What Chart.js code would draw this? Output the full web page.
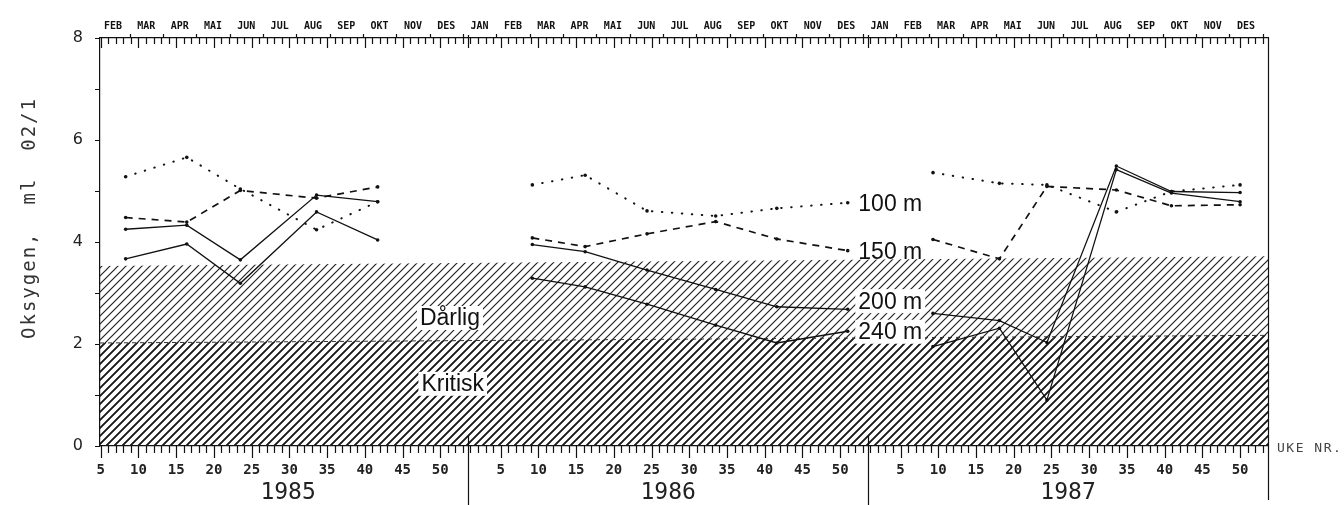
<!DOCTYPE html>
<html>
<head>
<meta charset="utf-8">
<script src="https://cdn.jsdelivr.net/npm/chart.js@4.4.1/dist/chart.umd.min.js"></script>
<style>
  html, body { margin: 0; padding: 0; background: #fff; }
  #wrap { width: 1344px; height: 505px; }
</style>
</head>
<body>
<div id="wrap"><canvas id="myChart" width="1344" height="505"></canvas></div>
<script>
// ---- data ----
const years = ['1985', '1986', '1987'];
const yearOffsets = [0, 53, 106];           // week index where each year starts
const months = ['JAN', 'FEB', 'MAR', 'APR', 'MAI', 'JUN', 'JUL', 'AUG', 'SEP', 'OKT', 'NOV', 'DES'];
const yTicks = [0, 2, 4, 6, 8];

// sampling weeks per year
const weeks1985 = [8.3, 16.4, 23.5, 33.6, 41.7];
const weeks1986 = [9.2, 16.2, 24.4, 33.5, 41.6, 51.0];
const weeks1987 = [9.3, 18.1, 24.4, 33.6, 40.9, 50.0];

// oxygen ml O2/l
const o100_1985 = [5.28, 5.66, 5.04, 4.24, 4.79];
const o150_1985 = [4.48, 4.39, 5.01, 4.86, 5.08];
const o200_1985 = [4.25, 4.33, 3.65, 4.92, 4.79];
const o240_1985 = [3.67, 3.96, 3.19, 4.59, 4.04];

const o100_1986 = [5.12, 5.31, 4.61, 4.51, 4.66, 4.77];
const o150_1986 = [4.08, 3.91, 4.16, 4.40, 4.06, 3.83];
const o200_1986 = [3.95, 3.81, 3.45, 3.07, 2.73, 2.68];
const o240_1986 = [3.29, 3.12, 2.78, 2.37, 2.02, 2.25];

const o100_1987 = [5.36, 5.15, 5.12, 4.59, 4.99, 5.12];
const o150_1987 = [4.05, 3.67, 5.09, 5.02, 4.71, 4.73];
const o200_1987 = [2.60, 2.46, 2.03, 5.49, 4.99, 4.97];
const o240_1987 = [1.95, 2.31, 0.90, 5.42, 4.96, 4.79];

// zone limits (left edge, right edge)
const darligTop = [3.53, 3.72];
const kritiskTop = [2.02, 2.17];

const xMin = 4.9, xMax = 159.7;
const yearEnds = [53.7, 106.7];

function series(v85, v86, v87) {
  const out = [];
  const w = [weeks1985, weeks1986, weeks1987];
  const v = [v85, v86, v87];
  for (let i = 0; i < 3; i++) {
    for (let j = 0; j < w[i].length; j++) out.push({ x: yearOffsets[i] + w[i][j], y: v[i][j] });
    out.push({ x: yearOffsets[i] + 52.5, y: null });
  }
  return out;
}

function hatch(width, step, col) {
  const c = document.createElement('canvas');
  c.width = step; c.height = step;
  const g = c.getContext('2d');
  g.strokeStyle = col;
  g.lineWidth = width;
  g.beginPath();
  g.moveTo(0, step); g.lineTo(step, 0);
  g.moveTo(-2, 2); g.lineTo(2, -2);
  g.moveTo(step - 2, step + 2); g.lineTo(step + 2, step - 2);
  g.stroke();
  return g.createPattern(c, 'repeat');
}

function yearOf(v) { return v > 106.5 ? 106 : (v > 53.5 ? 53 : 0); }

const labels = [
  { text: '100 m', t: 105.4, v: 4.75 },
  { text: '150 m', t: 105.4, v: 3.82 },
  { text: '200 m', t: 105.4, v: 2.84, box: true },
  { text: '240 m', t: 105.4, v: 2.24, box: true },
  { text: 'Dårlig', t: 47.3, v: 2.51, box: true },
  { text: 'Kritisk', t: 47.5, v: 1.22, box: true }
];

const decor = {
  id: 'decor',
  afterDatasetsDraw(chart) {
    const ctx = chart.ctx, x = chart.scales.x, y = chart.scales.y;
    ctx.save();
    ctx.font = '23px "Liberation Sans", Arial, sans-serif';
    ctx.textBaseline = 'middle';
    labels.forEach(l => {
      const px = x.getPixelForValue(l.t), py = y.getPixelForValue(l.v);
      const w = ctx.measureText(l.text).width;
      if (l.box) {
        ctx.fillStyle = '#fff';
        ctx.fillRect(px - 3, py - 12, w + 6, 24);
      }
      ctx.fillStyle = '#111';
      ctx.fillText(l.text, px, py + 1);
    });
    ctx.restore();
  },
  afterDraw(chart) {
    const ctx = chart.ctx, x = chart.scales.x, a = chart.chartArea;
    ctx.save();
    ctx.strokeStyle = '#111';
    ctx.lineWidth = 1.2;
    ctx.beginPath();
    // weekly ticks, top and bottom
    for (let i = 0; i < 3; i++) {
      for (let w = 1; w <= 53; w++) {
        const t = yearOffsets[i] + w;
        if (t < xMin || t > xMax) continue;
        const px = Math.round(x.getPixelForValue(t)) + 0.5;
        const big = w % 5 === 0;
        ctx.moveTo(px, a.bottom); ctx.lineTo(px, a.bottom + (big ? 12 : 7));
        ctx.moveTo(px, a.top); ctx.lineTo(px, a.top + (big ? 10 : 6));
      }
      // month boundary ticks on top, pointing up
      for (let m = 0; m <= 12; m++) {
        const t = yearOffsets[i] + m * 53 / 12;
        if (t < xMin || t > xMax) continue;
        const px = Math.round(x.getPixelForValue(t)) + 0.5;
        ctx.moveTo(px, a.top); ctx.lineTo(px, a.top - 4);
      }
    }
    // year dividers
    yearEnds.forEach(t => {
      const px = Math.round(x.getPixelForValue(t)) + 0.5;
      ctx.moveTo(px, a.bottom - 10); ctx.lineTo(px, 505);
      ctx.moveTo(px, a.top - 3); ctx.lineTo(px, a.top + 10);
    });
    // right frame
    ctx.moveTo(a.right + 0.5, a.top); ctx.lineTo(a.right + 0.5, 500);
    ctx.stroke();

    // year names
    ctx.fillStyle = '#222';
    ctx.font = '23px "DejaVu Sans Mono", monospace';
    ctx.textAlign = 'center';
    ctx.textBaseline = 'middle';
    years.forEach((yr, i) => {
      const start = i === 0 ? xMin : yearEnds[i - 1];
      const end = i === 2 ? xMax : yearEnds[i];
      const px = (x.getPixelForValue(start) + x.getPixelForValue(end)) / 2 + (i === 0 ? 4 : 0);
      ctx.fillText(yr, px, 493);
    });

    ctx.textAlign = 'left';
    ctx.font = '13px "DejaVu Sans Mono", monospace';
    ctx.letterSpacing = '1.5px';
    ctx.fillStyle = '#444';
    ctx.fillText('UKE NR.', a.right + 9, a.bottom + 3);

    // y title
    ctx.translate(30, 218);
    ctx.rotate(-Math.PI / 2);
    ctx.textAlign = 'center';
    ctx.font = '19px "DejaVu Sans Mono", monospace';
    ctx.letterSpacing = '2px';
    ctx.fillStyle = '#333';
    ctx.fillText('Oksygen,  ml  02/1', 0, 0);
    ctx.restore();
  }
};

const lineBase = { borderColor: '#111', pointRadius: 1.8, pointBackgroundColor: '#111', pointBorderWidth: 0, spanGaps: false, tension: 0, fill: false, order: 1 };

const chart = new Chart(document.getElementById('myChart'), {
  type: 'line',
  data: {
    datasets: [
      Object.assign({}, lineBase, { label: '100 m', data: series(o100_1985, o100_1986, o100_1987), borderWidth: 2, borderDash: [0.5, 9.5], borderCapStyle: 'round' }),
      Object.assign({}, lineBase, { label: '150 m', data: series(o150_1985, o150_1986, o150_1987), borderWidth: 1.7, borderDash: [7, 6] }),
      Object.assign({}, lineBase, { label: '200 m', data: series(o200_1985, o200_1986, o200_1987), borderWidth: 1.3 }),
      Object.assign({}, lineBase, { label: '240 m', data: series(o240_1985, o240_1986, o240_1987), borderWidth: 1.3 }),
      {
        label: 'Kritisk',
        data: [{ x: xMin, y: kritiskTop[0] }, { x: xMax, y: kritiskTop[1] }],
        fill: 'origin', backgroundColor: hatch(1.7, 8, '#1a1a1a'), borderColor: '#333', borderWidth: 1, borderDash: [4, 4],
        pointRadius: 0, order: 4
      },
      {
        label: 'Dårlig',
        data: [{ x: xMin, y: darligTop[0] }, { x: xMax, y: darligTop[1] }],
        fill: 'origin', backgroundColor: hatch(1.2, 8, '#222'), borderWidth: 0,
        pointRadius: 0, order: 5
      }
    ]
  },
  options: {
    responsive: false,
    animation: false,
    layout: { padding: { left: 0, right: 76, top: 0, bottom: 0 } },
    plugins: { legend: { display: false }, tooltip: { enabled: false } },
    scales: {
      x: {
        type: 'linear', position: 'bottom', min: xMin, max: xMax,
        afterFit: s => { s.height = 59; },
        afterBuildTicks: s => {
          const t = [];
          yearOffsets.forEach(o => { for (let w = 5; w <= 50; w += 5) t.push({ value: o + w }); });
          s.ticks = t;
        },
        ticks: {
          autoSkip: false, maxRotation: 0, padding: 9, color: '#222',
          font: { family: 'DejaVu Sans Mono', size: 14, weight: 'bold' },
          callback: v => String(Math.round(v - yearOf(v)))
        },
        grid: { drawOnChartArea: false, drawTicks: true, tickLength: 7, color: 'rgba(0,0,0,0)' },
        border: { display: true, color: '#111', width: 1.2 }
      },
      x2: {
        type: 'linear', position: 'top', min: xMin, max: xMax,
        afterFit: s => { s.height = 38; },
        afterBuildTicks: s => {
          const t = [];
          yearOffsets.forEach(o => months.forEach((m, i) => {
            const c = o + (i + 0.5) * 53 / 12;
            if (c > xMin + 1 && c < xMax) t.push({ value: c });
          }));
          s.ticks = t;
        },
        ticks: {
          autoSkip: false, maxRotation: 0, padding: 6, color: '#111',
          font: { family: 'DejaVu Sans Mono', size: 10, weight: 'bold' },
          callback: v => months[Math.floor((v - yearOf(v)) / (53 / 12))]
        },
        grid: { drawOnChartArea: false, drawTicks: false },
        border: { display: true, color: '#111', width: 1.2 }
      },
      y: {
        min: 0, max: 8,
        afterFit: s => { s.width = 100; },
        afterBuildTicks: s => {
          const t = [];
          for (let v = 0; v <= 8; v++) t.push({ value: v });
          s.ticks = t;
        },
        ticks: {
          padding: 12, color: '#222',
          font: { family: 'DejaVu Sans', size: 16 },
          callback: v => (yTicks.indexOf(v) >= 0 ? String(v) : '')
        },
        grid: { drawOnChartArea: false, tickLength: 5, color: '#111' },
        border: { display: true, color: '#111', width: 1.2 }
      }
    }
  },
  plugins: [decor]
});
</script>
</body>
</html>
